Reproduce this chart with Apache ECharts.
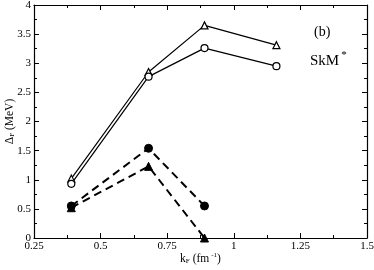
<!DOCTYPE html>
<html>
<head>
<meta charset="utf-8">
<script src="https://cdn.jsdelivr.net/npm/echarts@6/dist/echarts.min.js"></script>
<style>html,body{margin:0;padding:0;background:#fff;}#c{width:374px;height:270px;}</style>
</head>
<body>
<div id="c"></div>
<script>
// Data
const kF_open = [0.39, 0.68, 0.89, 1.16];
const openTriangle = [1.02, 2.85, 3.65, 3.31];
const openCircle = [0.93, 2.77, 3.26, 2.95];
const kF_filled = [0.39, 0.68, 0.89];
const filledCircle = [0.55, 1.54, 0.55];
const filledTriangle = [0.52, 1.23, 0.0];
const xTicks = [0.25, 0.5, 0.75, 1, 1.25, 1.5];
const yTicks = [0, 0.5, 1, 1.5, 2, 2.5, 3, 3.5, 4];

const pair = (xs, ys) => xs.map((x, i) => [x, ys[i]]);
const FONT = 'Liberation Serif';

const chart = echarts.init(document.getElementById('c'), null, {renderer: 'canvas'});
const axisBase = {
  axisLine: {show: true, onZero: false, lineStyle: {color: '#000', width: 1.2}},
  axisTick: {show: true, inside: true, length: 5, lineStyle: {color: '#000'}},
  minorTick: {show: true, splitNumber: 2, length: 3, lineStyle: {color: '#000'}},
  splitLine: {show: false}
};
const fmt = v => String(v);
chart.setOption({
  animation: false,
  backgroundColor: '#fff',
  grid: {left: 34, right: 7, top: 5, bottom: 32, containLabel: false, outerBoundsMode: 'none'},
  xAxis: [
    Object.assign({}, axisBase, {
      type: 'value', min: 0.25, max: 1.5, interval: 0.25, position: 'bottom',
      axisLabel: {color: '#000', fontFamily: FONT, fontSize: 11, margin: 3, formatter: fmt},
      name: '{a|k}{s|F}{a| (fm}{p|-1}{a|)}',
      nameLocation: 'middle', nameGap: 14, nameMoveOverlap: false,
      nameTextStyle: {rich: {
        a: {fontFamily: FONT, fontSize: 11.5, color: '#000'},
        s: {fontFamily: FONT, fontSize: 7, color: '#000', verticalAlign: 'bottom', padding: [6, 0, 0, 0]},
        p: {fontFamily: FONT, fontSize: 7, color: '#000', verticalAlign: 'top', padding: [0, 0, 6, 2]}
      }}
    }),
    Object.assign({}, axisBase, {
      type: 'value', min: 0.25, max: 1.5, interval: 0.25, position: 'top',
      axisLabel: {show: false}
    })
  ],
  yAxis: [
    Object.assign({}, axisBase, {
      type: 'value', min: 0, max: 4, interval: 0.5, position: 'left',
      axisLabel: {color: '#000', fontFamily: FONT, fontSize: 11, margin: 3, formatter: fmt},
      name: '{a|Δ}{s|F}{a| (MeV)}',
      nameLocation: 'middle', nameGap: 18, nameRotate: 90, nameMoveOverlap: false,
      nameTextStyle: {rich: {
        a: {fontFamily: FONT, fontSize: 11.5, color: '#000'},
        s: {fontFamily: FONT, fontSize: 7, color: '#000', verticalAlign: 'bottom', padding: [6, 0, 0, 0]}
      }}
    }),
    Object.assign({}, axisBase, {
      type: 'value', min: 0, max: 4, interval: 0.5, position: 'right',
      axisLabel: {show: false}
    })
  ],
  graphic: [
    {type: 'text', left: 314, top: 25, style: {text: '(b)', font: '14px "Liberation Serif"', fill: '#000'}},
    {type: 'text', left: 310, top: 50, style: {
      text: '{m|SkM}{p|*}',
      rich: {
        m: {font: '15px "Liberation Serif"', fill: '#000', verticalAlign: 'bottom'},
        p: {font: '11px "Liberation Serif"', fill: '#000', verticalAlign: 'top', padding: [0, 0, 8, 2]}
      }
    }}
  ],
  series: [
    {type: 'line', data: pair(kF_open, openTriangle), symbol: 'triangle', symbolSize: 7,
      lineStyle: {color: '#000', width: 1.2}, itemStyle: {color: '#fff', borderColor: '#000', borderWidth: 1.2}},
    {type: 'line', data: pair(kF_open, openCircle), symbol: 'circle', symbolSize: 7,
      lineStyle: {color: '#000', width: 1.2}, itemStyle: {color: '#fff', borderColor: '#000', borderWidth: 1.2}},
    {type: 'line', data: pair(kF_filled, filledCircle), symbol: 'circle', symbolSize: 8,
      lineStyle: {color: '#000', width: 2, type: [8, 5]}, itemStyle: {color: '#000', borderColor: '#000'}},
    {type: 'line', data: pair(kF_filled, filledTriangle), symbol: 'triangle', symbolSize: 8,
      lineStyle: {color: '#000', width: 2, type: [8, 5]}, itemStyle: {color: '#000', borderColor: '#000'}}
  ]
});
</script>
</body>
</html>
